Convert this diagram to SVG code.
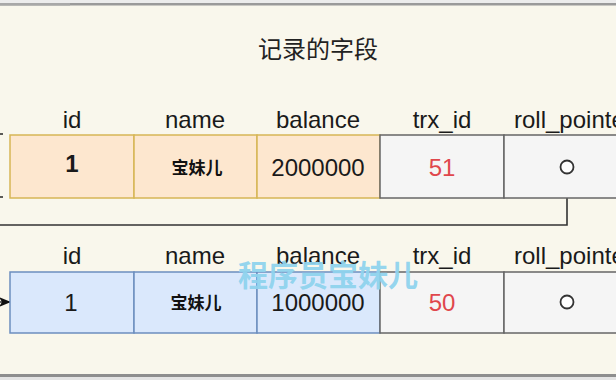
<svg xmlns="http://www.w3.org/2000/svg" width="616" height="380" viewBox="0 0 616 380">
<defs>
<style>
.bg{fill:#f9f7ec}
.hdr{font-family:"Liberation Sans",Arial,sans-serif;font-size:24px;fill:#1a1a1a;text-anchor:middle}
.hdr.lft{text-anchor:start}
.val{font-family:"Liberation Sans",Arial,sans-serif;font-size:24px;fill:#1a1a1a;text-anchor:middle}
.cjk{font-family:"Noto Sans CJK SC","Liberation Sans",sans-serif;font-size:17px;font-weight:bold;fill:#111;text-anchor:middle}
.red{fill:#e0474c}
.org{fill:#fde7cf;stroke:#d6b656;stroke-width:1.5}
.blu{fill:#dae8fc;stroke:#6c8ebf;stroke-width:1.5}
.gry{fill:#f5f5f5;stroke:#666;stroke-width:1.5}
.conn{fill:none;stroke:#333;stroke-width:1.6}
.ptr{fill:#fff;stroke:#333;stroke-width:1.8}
</style>
<marker id="arr" markerWidth="13" markerHeight="12" refX="11" refY="6" orient="auto" markerUnits="userSpaceOnUse">
<path d="M0,1 L12,6 L0,11 L3,6 Z" fill="#111"/>
</marker>
</defs>
<rect class="bg" x="0" y="0" width="616" height="380"/>
<rect x="0" y="0" width="616" height="3" fill="#ececec"/>
<rect x="0" y="3" width="616" height="2.5" fill="#9a9a9a"/>
<rect x="0" y="3" width="70" height="2.5" fill="#a8a8a8"/>
<rect x="0" y="374" width="616" height="3" fill="#8e8e8e"/>
<rect x="0" y="377" width="616" height="3" fill="#e4e4e4"/>

<text x="318" y="58" font-family="Noto Sans CJK SC,sans-serif" font-size="24" fill="#222" text-anchor="middle">记录的字段</text>

<g id="connectors">
<path class="conn" d="M567 174 V225 H-5 V302 H10" marker-end="url(#arr)"/>
<line class="conn" x1="0" y1="134" x2="3" y2="134"/>
<line class="conn" x1="0" y1="197" x2="3" y2="197"/>
</g>

<g id="row1">
<g id="r1-id"><rect class="org" x="10" y="135" width="124" height="63"/><text class="hdr" x="72" y="128">id</text><text class="val" x="72" y="172" font-weight="bold" font-size="15">1</text></g>
<g id="r1-name"><rect class="org" x="134" y="135" width="123" height="63"/><text class="hdr" x="195" y="128">name</text><text class="cjk" x="197" y="174">宝妹儿</text></g>
<g id="r1-balance"><rect class="org" x="257" y="135" width="123" height="63"/><text class="hdr" x="318" y="128">balance</text><text class="val" x="318" y="176">2000000</text></g>
<g id="r1-trx"><rect class="gry" x="380" y="135" width="124" height="63"/><text class="hdr" x="442" y="128">trx_id</text><text class="val red" x="442" y="176">51</text></g>
<g id="r1-roll"><rect class="gry" x="504" y="135" width="124" height="63"/><text class="hdr lft" x="514" y="128">roll_pointer</text><circle class="ptr" cx="567" cy="167" r="6.5"/></g>
</g>

<g id="row2">
<g id="r2-id"><rect class="blu" x="10" y="272" width="124" height="61"/><text class="hdr" x="72" y="264">id</text><text class="val" x="71" y="311">1</text></g>
<g id="r2-name"><rect class="blu" x="134" y="272" width="123" height="61"/><text class="hdr" x="195" y="264">name</text><text class="cjk" x="196" y="309">宝妹儿</text></g>
<g id="r2-balance"><rect class="blu" x="257" y="272" width="123" height="61"/><text class="hdr" x="318" y="264">balance</text><text class="val" x="318" y="311">1000000</text></g>
<g id="r2-trx"><rect class="gry" x="380" y="272" width="124" height="61"/><text class="hdr" x="442" y="264">trx_id</text><text class="val red" x="442" y="311">50</text></g>
<g id="r2-roll"><rect class="gry" x="504" y="272" width="124" height="61"/><text class="hdr lft" x="514" y="264">roll_pointer</text><circle class="ptr" cx="567" cy="302" r="6.5"/></g>
</g>

<text x="238" y="286" font-family="Noto Sans CJK SC,sans-serif" font-size="30" font-weight="bold" fill="#8fd3ee" fill-opacity="0.95">程序员宝妹儿</text>
</svg>
